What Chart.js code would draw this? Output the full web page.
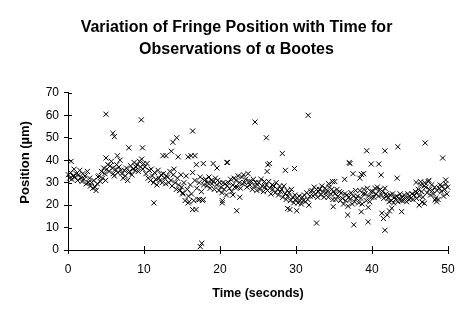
<!DOCTYPE html>
<html lang="en">
    <head>
        <meta charset="UTF-8">
        <title>Fringe Position vs Time</title>
        <script src="https://cdn.jsdelivr.net/npm/chart.js"></script>
        <style>
            body, html {
                margin: 0;
                padding: 0;
                background: #ffffff;
            }
            #chartContainer {
                width: 473px;
                height: 324px;
            }
        </style>
    </head>
    <body>
        <div id="chartContainer">
            <canvas id="fringeChart"></canvas>
        </div>

        <script>
            // [time (s), position (um)], one block per 10 s
            const block0to10 = [
                [0.05,33.5],[0.2,32],[0.35,34.5],[0.5,31.5],[0.65,33],[0.8,36],[0.95,32.5],
                [1.1,34],[1.25,31],[1.4,33.5],[1.55,35.5],[1.7,32],[1.85,30.5],[1.95,34],
                [2.1,31.5],[2.25,33],[2.4,29.5],[2.55,35],[2.7,30],[2.85,32],[2.95,28.5],
                [3.1,30],[3.25,27.5],[3.4,31],[3.55,28],[3.7,26.5],[3.85,29.5],[3.95,32.5],
                [4.1,33],[4.25,30.5],[4.4,35],[4.55,32],[4.7,36.5],[4.85,34],[4.95,31],
                [5.1,36],[5.25,38],[5.4,35],[5.55,37.5],[5.7,39.5],[5.85,36.5],[5.95,34],
                [6.1,33],[6.25,36],[6.4,38],[6.55,34.5],[6.7,37],[6.85,40],[6.95,35.5],
                [7.1,34],[7.25,32],[7.4,35.5],[7.55,33],[7.7,36.5],[7.85,31],[7.95,34.5],
                [8.1,35],[8.25,37.5],[8.4,33.5],[8.55,36],[8.7,39],[8.85,35.5],[8.95,37],
                [9.1,38],[9.25,35],[9.4,39.5],[9.55,37],[9.7,40.5],[9.85,36],[9.95,38.5]
            ];
            const block10to20 = [
                [10.1,37],[10.25,34],[10.4,38.5],[10.55,32],[10.7,35.5],[10.85,31],[10.95,36],
                [11.1,33],[11.25,30],[11.4,34.5],[11.55,31.5],[11.7,29],[11.85,35.5],[11.95,32],
                [12.1,31],[12.25,33.5],[12.4,30],[12.55,34],[12.7,32],[12.85,29.5],[12.95,33],
                [13.1,32.5],[13.25,30],[13.4,35],[13.55,31],[13.7,28.5],[13.85,33.5],[13.95,36],
                [14.1,30],[14.25,27],[14.4,32],[14.55,29],[14.7,26.5],[14.85,33.5],[14.95,28],
                [15.1,25.5],[15.25,30],[15.4,22],[15.55,33],[15.7,27],[15.85,24],[15.95,21.5],
                [16.1,29],[16.25,25],[16.4,34.5],[16.55,22],[16.7,31],[16.85,18],[16.95,27.5],
                [17.1,22.5],[17.25,30],[17.4,32.5],[17.55,26],[17.7,22],[17.85,29],[17.95,31],
                [18.1,31.5],[18.25,28.5],[18.4,30],[18.55,32.5],[18.7,27.5],[18.85,31],[18.95,29.5],
                [19.1,30.5],[19.25,27],[19.4,32],[19.55,29],[19.7,31],[19.85,26.5],[19.95,30]
            ];
            const block20to30 = [
                [20.1,28],[20.25,25.5],[20.4,30],[20.55,27],[20.7,29.5],[20.85,24.5],[20.95,28.5],
                [21.1,30],[21.25,27.5],[21.4,31.5],[21.55,26],[21.7,29],[21.85,32],[21.95,28],
                [22.1,31],[22.25,28],[22.4,33],[22.55,30],[22.7,27.5],[22.85,32.5],[22.95,29.5],
                [23.1,33.5],[23.25,30],[23.4,31.5],[23.55,28],[23.7,34],[23.85,30.5],[23.95,29],
                [24.1,30.5],[24.25,27],[24.4,31.5],[24.55,28.5],[24.7,30],[24.85,26.5],[24.95,29],
                [25.1,30],[25.25,27],[25.4,31.5],[25.55,28.5],[25.7,26],[25.85,30.5],[25.95,28],
                [26.1,29],[26.25,26.5],[26.4,30.5],[26.55,27.5],[26.7,25],[26.85,29],[26.95,27],
                [27.1,28.5],[27.25,25.5],[27.4,30],[27.55,27],[27.7,24.5],[27.85,28.5],[27.95,26],
                [28.1,27],[28.25,23.5],[28.4,28.5],[28.55,25],[28.7,22.5],[28.85,26.5],[28.95,24],
                [29.1,25.5],[29.25,22],[29.4,27],[29.55,23.5],[29.7,21],[29.85,24.5],[29.95,22.5]
            ];
            const block30to40 = [
                [30.1,23],[30.25,21],[30.4,24],[30.55,22],[30.7,20.5],[30.85,23.5],[30.95,22],
                [31.1,24.5],[31.25,21.5],[31.4,25.5],[31.55,22.5],[31.7,20],[31.85,24],[31.95,26],
                [32.1,26.5],[32.25,24],[32.4,28],[32.55,25],[32.7,27],[32.85,23.5],[32.95,26],
                [33.1,27],[33.25,24.5],[33.4,28.5],[33.55,26],[33.7,23.5],[33.85,27.5],[33.95,25.5],
                [34.1,26],[34.25,23.5],[34.4,28],[34.55,25],[34.7,27],[34.85,22.5],[34.95,26],
                [35.1,25],[35.25,22.5],[35.4,27],[35.55,24],[35.7,26],[35.85,22],[35.95,25.5],
                [36.1,23],[36.25,20.5],[36.4,25],[36.55,22],[36.7,24.5],[36.85,19.5],[36.95,23.5],
                [37.1,22.5],[37.25,25.5],[37.4,20.5],[37.55,24],[37.7,21.5],[37.85,26.5],[37.95,23],
                [38.1,24],[38.25,21],[38.4,26.5],[38.55,23],[38.7,20.5],[38.85,25],[38.95,27],
                [39.1,25],[39.25,22],[39.4,27.5],[39.55,24],[39.7,21.5],[39.85,26],[39.95,23.5]
            ];
            const block40to50 = [
                [40.1,26],[40.25,23.5],[40.4,27.5],[40.55,25],[40.7,28],[40.85,24],[40.95,26.5],
                [41.1,27],[41.25,24.5],[41.4,26],[41.55,23],[41.7,27.5],[41.85,25],[41.95,24],
                [42.1,23],[42.25,21.5],[42.4,24.5],[42.55,22],[42.7,25],[42.85,21],[42.95,23.5],
                [43.1,22.5],[43.25,24],[43.4,21.5],[43.55,23],[43.7,25],[43.85,22],[43.95,23.5],
                [44.1,22],[44.25,24.5],[44.4,23],[44.55,21.5],[44.7,25],[44.85,22.5],[44.95,24],
                [45.1,23],[45.25,25],[45.4,22.5],[45.55,24.5],[45.7,26],[45.85,23],[45.95,25.5],
                [46.1,27],[46.25,24],[46.4,29],[46.55,26],[46.7,23.5],[46.85,28.5],[46.95,30],
                [47.1,28],[47.25,25.5],[47.4,30.5],[47.55,27],[47.7,24.5],[47.85,29],[47.95,26.5],
                [48.1,25],[48.25,28],[48.4,23],[48.55,26.5],[48.7,22.5],[48.85,27.5],[48.95,29],
                [49.1,26],[49.25,28.5],[49.4,24],[49.55,27],[49.7,29.5],[49.85,25],[49.95,28]
            ];
            // scattered points away from the main band
            const strayPoints = [
                [0.4,39.5],[5.0,60.5],[5.9,52],[6.1,50.5],[6.5,42],[5.0,41],[8.0,45.5],[9.65,58],[9.8,45.5],
                [11.3,21],[12.5,42],[12.9,42],[13.6,44],[13.8,48],[14.3,50],[14.5,41.5],[15.8,41.5],
                [16.2,42],[16.4,53],[16.7,42],[16.9,38],[17.8,38.5],[19.1,38.5],[19.6,36.5],
                [17.4,1.5],[17.6,3],[16.4,18],[15.8,21],[17.3,22.5],[17.8,22.5],[14.7,26.5],[15.1,25],
                [20.3,22],[20.3,21],[20.9,39],[21.0,39],[21.7,24.5],[22.6,23.5],[22.2,17.5],
                [24.6,57],[26.1,50],[26.3,38],[26.5,38.5],[26.2,35],[28.2,43],[28.6,35.5],[29.8,36.3],
                [28.9,18.5],[29.2,18],[30.1,17.5],
                [31.6,60],[32.7,12],[34.3,29.5],[34.8,30.5],[35.1,30.5],[34.9,19.3],[36.4,31.5],
                [36.8,15.6],[37.0,39],[37.1,38.5],[37.5,34],[38.4,32],[38.6,33.7],[38.9,34],
                [37.6,11.2],[38.6,17],[39.3,44.2],[39.5,12.5],[39.5,19],[39.9,38.3],
                [40.9,38.3],[41.2,33.4],[41.3,16.4],[41.5,14],[41.7,8.8],[41.7,44.2],[42.3,17.4],
                [42.6,18.6],[42.0,15.6],[43.3,32],[43.4,46],[43.9,17.1],[45.8,30.1],[46.2,20],
                [46.6,21.3],[46.9,20.8],[47.0,47.7],[46.4,30.4],[47.5,31],[48.3,22.3],[48.5,21.5],
                [49.3,41],[49.7,31.2]
            ];
            const xTicks = [0, 10, 20, 30, 40, 50];
            const yTicks = [0, 10, 20, 30, 40, 50, 60, 70];

            const allPoints = [].concat(block0to10, block10to20, block20to30, block30to40, block40to50, strayPoints)
                .map(p => ({ x: p[0], y: p[1] }));

            const FONT = "'Liberation Sans', Arial, sans-serif";

            // short tick marks on the inner side of each axis, as in the original
            const innerTicks = {
                id: 'innerTicks',
                afterDraw(chart) {
                    const { ctx, chartArea, scales } = chart;
                    ctx.save();
                    ctx.strokeStyle = '#000';
                    ctx.lineWidth = 1;
                    ctx.beginPath();
                    xTicks.forEach(v => {
                        const px = Math.round(scales.x.getPixelForValue(v)) + 0.5;
                        ctx.moveTo(px, chartArea.bottom);
                        ctx.lineTo(px, chartArea.bottom - 4);
                    });
                    yTicks.forEach(v => {
                        const py = Math.round(scales.y.getPixelForValue(v)) + 0.5;
                        ctx.moveTo(chartArea.left, py);
                        ctx.lineTo(chartArea.left + 4, py);
                    });
                    ctx.stroke();
                    ctx.restore();
                }
            };

            const ctx = document.getElementById('fringeChart').getContext('2d');
            new Chart(ctx, {
                type: 'scatter',
                data: {
                    datasets: [{
                        label: 'Fringe position',
                        data: allPoints,
                        pointStyle: 'crossRot',
                        pointRadius: 3.6,
                        pointBorderWidth: 1,
                        borderColor: '#000',
                        backgroundColor: '#000',
                        clip: false
                    }]
                },
                options: {
                    responsive: true,
                    maintainAspectRatio: false,
                    animation: false,
                    layout: {
                        padding: 0
                    },
                    plugins: {
                        legend: { display: false },
                        tooltip: { enabled: false },
                        title: {
                            display: true,
                            text: ['Variation of Fringe Position with Time for', 'Observations of \u03b1 Bootes'],
                            color: '#000',
                            font: { family: FONT, size: 16, weight: 'bold', lineHeight: 1.34 },
                            padding: { top: 17, bottom: 33 }
                        }
                    },
                    scales: {
                        x: {
                            type: 'linear',
                            min: 0,
                            max: 50,
                            afterFit: scale => { scale.height = 74; },
                            afterBuildTicks: scale => { scale.ticks = xTicks.map(v => ({ value: v })); },
                            border: { color: '#000', width: 1 },
                            grid: { drawOnChartArea: false, color: '#000', tickLength: 4 },
                            ticks: {
                                color: '#000',
                                padding: 8,
                                maxRotation: 0,
                                font: { family: FONT, size: 12 }
                            },
                            title: {
                                display: true,
                                text: 'Time (seconds)',
                                color: '#000',
                                font: { family: FONT, size: 12.5, weight: 'bold' },
                                padding: { top: 0, bottom: 23 }
                            }
                        },
                        y: {
                            type: 'linear',
                            min: 0,
                            max: 70,
                            afterFit: scale => { scale.width = 68; },
                            afterBuildTicks: scale => { scale.ticks = yTicks.map(v => ({ value: v })); },
                            border: { color: '#000', width: 1 },
                            grid: { drawOnChartArea: false, color: '#000', tickLength: 4 },
                            ticks: {
                                color: '#000',
                                padding: 5,
                                font: { family: FONT, size: 12 }
                            },
                            title: {
                                display: true,
                                text: '     Position (\u00b5m)',
                                color: '#000',
                                font: { family: FONT, size: 13, weight: 'bold' },
                                padding: { top: 18, bottom: 0 }
                            }
                        },
                        // empty right-hand margin so the title stays centred on the page
                        yRight: {
                            position: 'right',
                            display: true,
                            afterFit: scale => { scale.width = 25; },
                            border: { display: false },
                            grid: { display: false },
                            ticks: { display: false }
                        }
                    }
                },
                plugins: [innerTicks]
            });
        </script>
    </body>
</html>
